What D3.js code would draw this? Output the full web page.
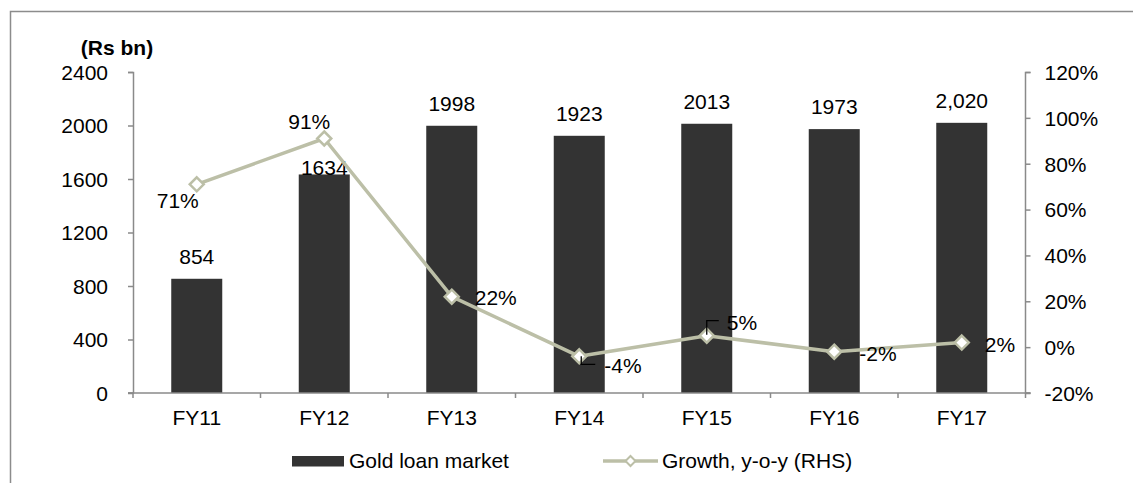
<!DOCTYPE html>
<html>
<head>
<meta charset="utf-8">
<script src="https://cdn.jsdelivr.net/npm/d3@7/dist/d3.min.js"></script>
<style>
  html, body { margin: 0; padding: 0; background: #ffffff; }
  svg { display: block; }
  text { font-family: "Liberation Sans", Arial, Helvetica, sans-serif; fill: #000; }
</style>
</head>
<body>
<svg id="chart" width="1133" height="483"></svg>
<script>
// ---- data ----
const categories = ["FY11", "FY12", "FY13", "FY14", "FY15", "FY16", "FY17"];
const marketValues = [854, 1634, 1998, 1923, 2013, 1973, 2020];
const marketLabels = ["854", "1634", "1998", "1923", "2013", "1973", "2,020"];
const growthValues = [71, 91, 22, -4, 5, -2, 2];
const growthLabels = ["71%", "91%", "22%", "-4%", "5%", "-2%", "2%"];
const leftTicks = [0, 400, 800, 1200, 1600, 2000, 2400];
const rightTicks = [-20, 0, 20, 40, 60, 80, 100, 120];
const seriesNames = ["Gold loan market", "Growth, y-o-y (RHS)"];
const unitLabel = "(Rs bn)";

// ---- drawing ----
const svg = d3.select("#chart");
const FONT = 21;
const axisColor = "#8a8a8a";
const barColor = "#333333";
const lineColor = "#bcbfa7";

// frame (left and top edges)
svg.append("path")
  .attr("d", "M10.5,483 L10.5,11.5 L1133,11.5")
  .attr("fill", "none").attr("stroke", "#8c8c8c").attr("stroke-width", 1.5);

const x = d3.scaleBand().domain(categories).range([133, 1025.5])
  .paddingInner(0.6).paddingOuter(0.3);
const yL = d3.scaleLinear().domain([0, 2400]).range([393, 72]);
const yR = d3.scaleLinear().domain([-20, 120]).range([393, 72]);

// bars
svg.append("g").selectAll("rect").data(marketValues).join("rect")
  .attr("x", (d, i) => x(categories[i]))
  .attr("y", d => yL(d))
  .attr("width", x.bandwidth())
  .attr("height", d => yL(0) - yL(d))
  .attr("fill", barColor);

// left axis
const gL = svg.append("g").attr("transform", "translate(133,0)")
  .call(d3.axisLeft(yL).tickValues(leftTicks).tickSize(5).tickPadding(20).tickFormat(d3.format("d")));
// right axis
const gR = svg.append("g").attr("transform", "translate(1025.5,0)")
  .call(d3.axisRight(yR).tickValues(rightTicks).tickSize(5).tickPadding(14).tickFormat(d => d + "%"));
// bottom axis
const gB = svg.append("g").attr("transform", "translate(0,393)")
  .call(d3.axisBottom(x).tickSize(0).tickPadding(0));
gB.selectAll("text").attr("y", 24.5).attr("dy", "0.35em");
// category boundary ticks
const boundaries = d3.range(categories.length + 1).map(i => 133 + i * x.step());
gB.selectAll("line.bt").data(boundaries).join("line").attr("class", "bt")
  .attr("x1", d => d).attr("x2", d => d).attr("y1", 0).attr("y2", 5);

[gL, gR, gB].forEach(g => {
  g.selectAll(".domain").attr("stroke", axisColor).attr("stroke-width", 1.5);
  g.selectAll("line").attr("stroke", axisColor).attr("stroke-width", 1.5);
  g.selectAll("text").attr("font-size", FONT).attr("font-family", "Liberation Sans, Arial, sans-serif").attr("fill", "#000");
});
gL.select(".domain").attr("d", "M-5,72.5H0.5V393H-5");
gR.select(".domain").attr("d", "M5,72.5H0V393H5");
gB.select(".domain").attr("d", "M128,0H1030.5");
gL.selectAll("text").attr("dy", "0.35em");
gR.selectAll("text").attr("dy", "0.35em");

// unit label
svg.append("text").attr("x", 117).attr("y", 48).attr("dy", "0.35em")
  .attr("text-anchor", "middle").attr("font-size", FONT).attr("font-weight", "bold")
  .text(unitLabel);

// bar labels
svg.append("g").selectAll("text").data(marketValues).join("text")
  .attr("x", (d, i) => x(categories[i]) + x.bandwidth() / 2)
  .attr("y", (d, i) => yL(d) - (i === 1 ? 7 : 22.5))
  .attr("dy", "0.35em")
  .attr("text-anchor", "middle").attr("font-size", FONT)
  .text((d, i) => marketLabels[i]);

// growth line
const cx = i => x(categories[i]) + x.bandwidth() / 2;
const line = d3.line().x((d, i) => cx(i)).y(d => yR(d));
svg.append("path").datum(growthValues).attr("d", line)
  .attr("fill", "none").attr("stroke", lineColor).attr("stroke-width", 3.5)
  .attr("stroke-linejoin", "round");

const diamond = (cxp, cyp, r) => `M${cxp},${cyp - r}L${cxp + r},${cyp}L${cxp},${cyp + r}L${cxp - r},${cyp}Z`;
svg.append("g").selectAll("path").data(growthValues).join("path")
  .attr("d", (d, i) => diamond(cx(i), yR(d), 7))
  .attr("fill", "#ffffff").attr("stroke", lineColor).attr("stroke-width", 2.5);

// growth labels (placement relative to each marker)
const place = [
  { a: "middle", dx: -19, dy: 16 },
  { a: "middle", dx: -15, dy: -17 },
  { a: "start", dx: 23, dy: 1 },
  { a: "start", dx: 25, dy: 9 },
  { a: "start", dx: 20, dy: -13 },
  { a: "start", dx: 25, dy: 2 },
  { a: "start", dx: 23, dy: 2 }
];
svg.append("g").selectAll("text").data(growthValues).join("text")
  .attr("x", (d, i) => cx(i) + place[i].dx)
  .attr("y", (d, i) => yR(d) + place[i].dy)
  .attr("dy", "0.35em")
  .attr("text-anchor", (d, i) => place[i].a)
  .attr("font-size", FONT)
  .text((d, i) => growthLabels[i]);

// leader lines for -4% and 5%
const l4x = cx(3), l4y = yR(growthValues[3]);
svg.append("path").attr("d", `M${l4x + 2},${l4y}V${l4y + 8}H${l4x + 16}`)
  .attr("fill", "none").attr("stroke", "#000").attr("stroke-width", 1.3);
const l5x = cx(4), l5y = yR(growthValues[4]);
svg.append("path").attr("d", `M${l5x},${l5y - 1}V${l5y - 15}H${l5x + 12}`)
  .attr("fill", "none").attr("stroke", "#000").attr("stroke-width", 1.3);

// legend
const lg = svg.append("g");
lg.append("rect").attr("x", 292).attr("y", 456).attr("width", 52).attr("height", 10.5).attr("fill", barColor);
lg.append("text").attr("x", 349).attr("y", 461).attr("dy", "0.35em").attr("font-size", FONT).text(seriesNames[0]);
lg.append("line").attr("x1", 603).attr("x2", 658).attr("y1", 461).attr("y2", 461)
  .attr("stroke", lineColor).attr("stroke-width", 3.5);
lg.append("path").attr("d", diamond(630.5, 461, 5)).attr("fill", "#fff").attr("stroke", lineColor).attr("stroke-width", 2);
lg.append("text").attr("x", 662).attr("y", 461).attr("dy", "0.35em").attr("font-size", FONT).text(seriesNames[1]);
</script>
</body>
</html>
